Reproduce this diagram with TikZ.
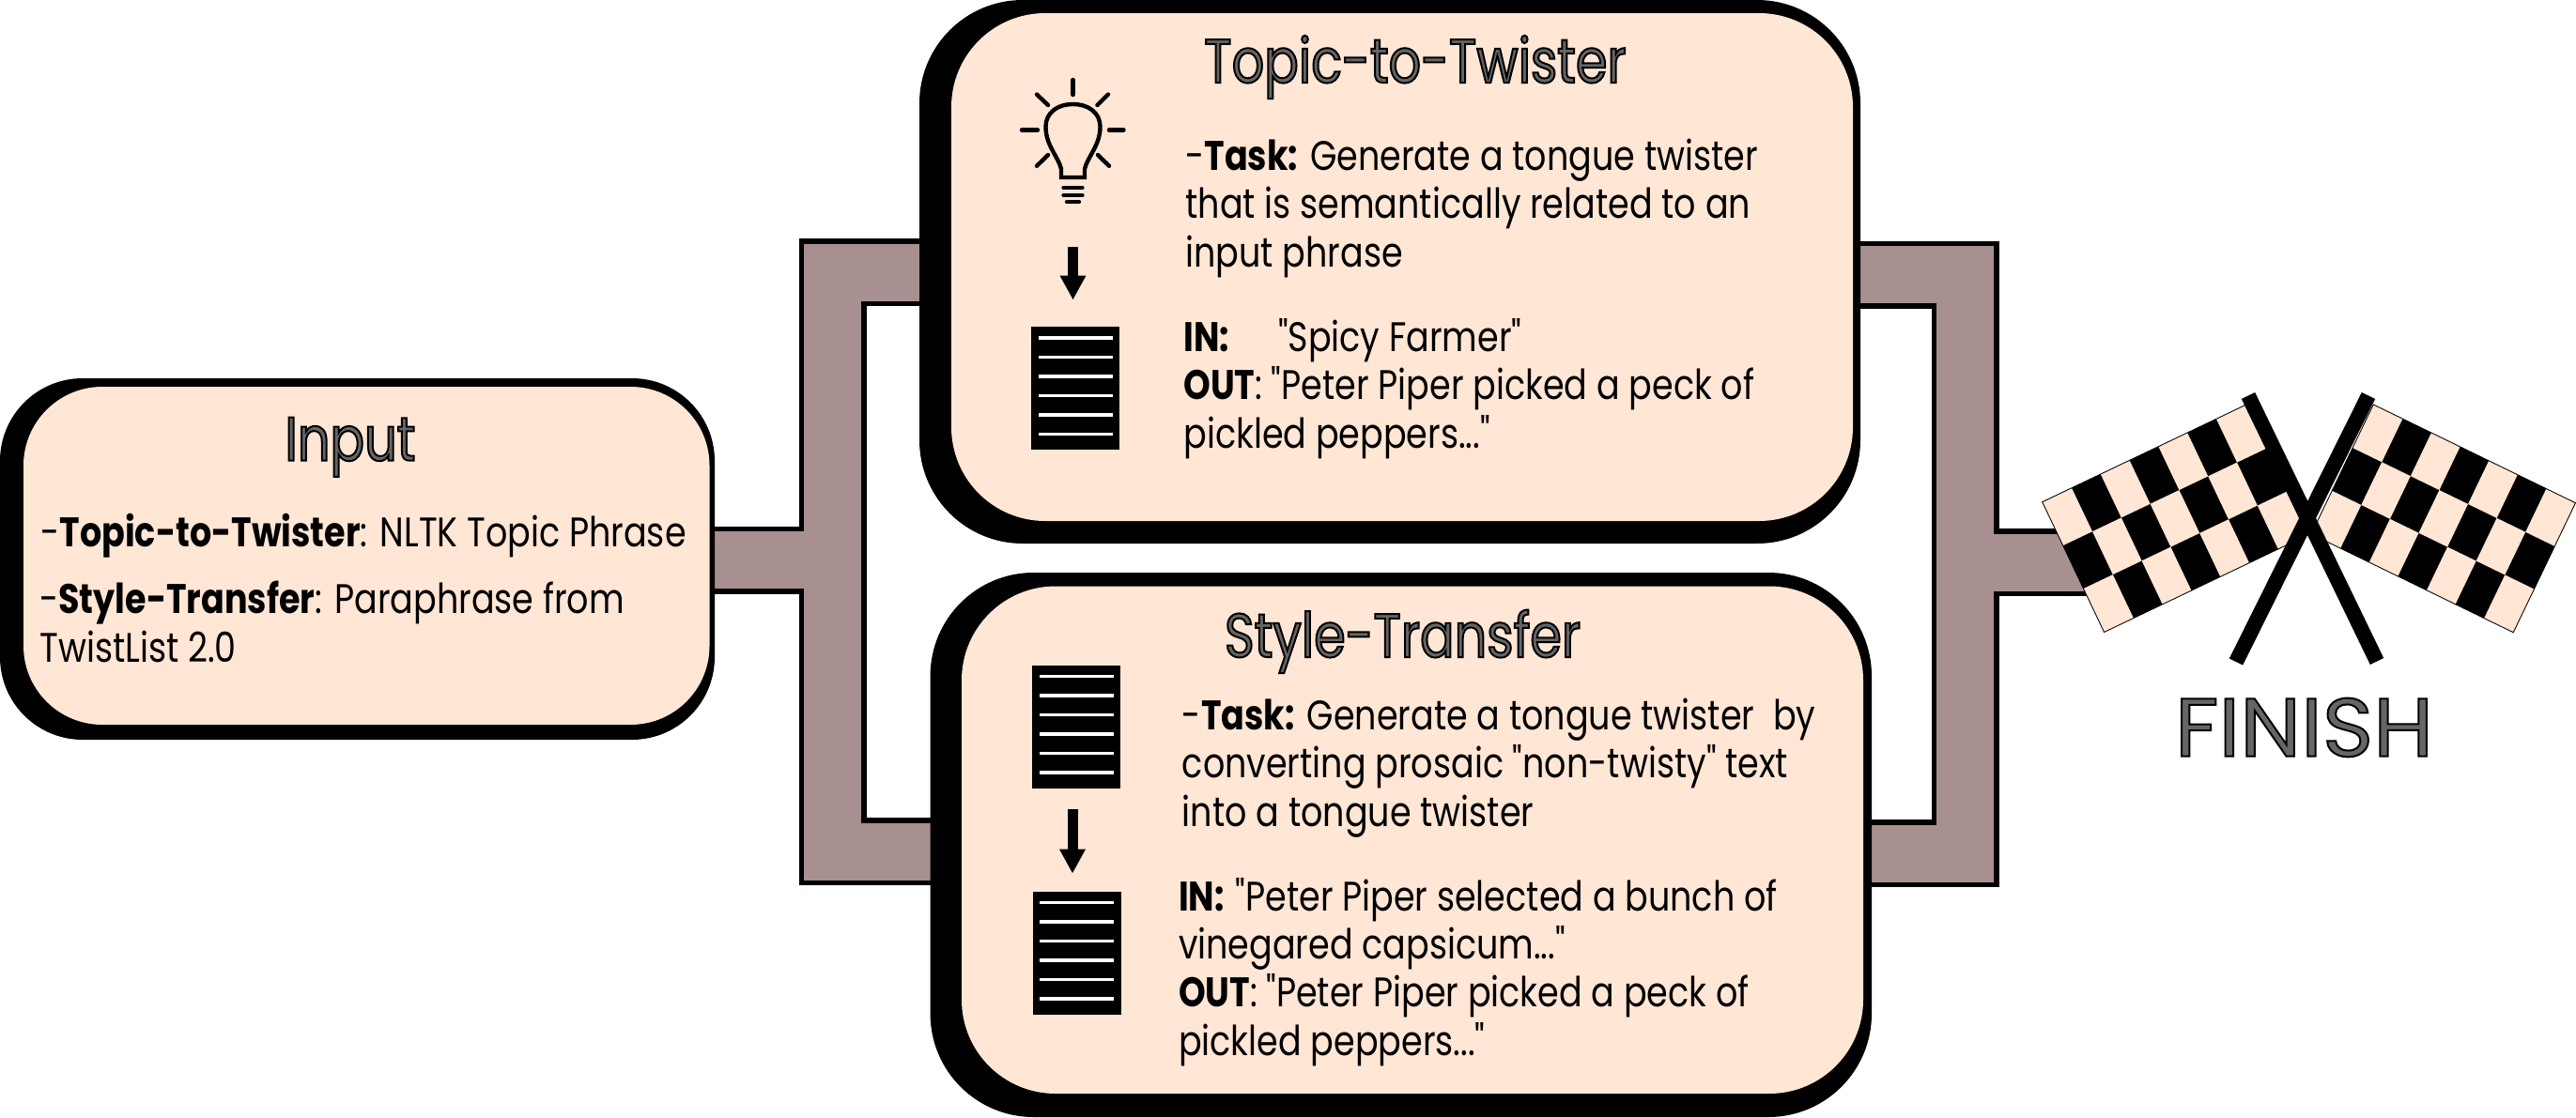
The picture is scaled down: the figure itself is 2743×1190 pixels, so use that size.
\documentclass[tikz,border=0pt]{standalone}
\usepackage{fontspec}
\usetikzlibrary{arrows.meta,backgrounds}
\newfontfamily\bodyfont[FakeStretch=0.83]{Poppins}
\newfontfamily\headfont[FakeStretch=0.82]{Poppins}
\newfontfamily\finishfont[FakeStretch=1.05]{Poppins}
\definecolor{peach}{HTML}{FFE6D5}
\definecolor{pipecol}{HTML}{A89090}
\newcommand{\strokedtext}[1]{\special{pdf:code 2 Tr 1 w 0 0 0 RG 0.4 0.4 0.4 rg}#1\special{pdf:code 0 Tr 1 w 0 G 0 g}}
% sheet of text: black page with six white rules
\newcommand{\docicon}[3]{
  \node[docpage] (#1) at (#2,#3) {};
  \foreach \k in {-53.75,-33.25,-12.75,7.75,28.25,48.75}
    \draw[docrule] (#2-39.5,#3+\k) -- (#2+39.5,#3+\k);
}
\newcommand{\flagcells}{
  \draw[flagback] (0,0) -- (7,0) -- (7,3) -- (0,3) -- cycle;
  \foreach \i/\j in {0/0,2/0,4/0,6/0,1/1,3/1,5/1,0/2,2/2,4/2,6/2}
    \fill[peach] (\i,\j) -- (\i+1,\j) -- (\i+1,\j+1) -- (\i,\j+1) -- cycle;
}
\tikzset{
  boxback/.style={fill=black, inner sep=0pt, rounded corners=55pt},
  boxfill/.style={fill=peach, inner sep=0pt, rounded corners=50pt},
  bodytext/.style={anchor=base west, inner sep=0pt, align=left, font=\bodyfont\fontsize{22}{25.6}\selectfont},
  titletext/.style={anchor=base, inner sep=0pt, font=\headfont\fontsize{33}{36}\selectfont},
  pipeedge/.style={draw=black, line width=36pt, miter limit=10},
  pipecore/.style={draw=pipecol, line width=30.5pt, miter limit=10},
  docpage/.style={fill=black, inner sep=0pt, minimum width=47pt, minimum height=65.5pt},
  docrule/.style={white, line width=1.9pt},
  downarrow/.style={-{Triangle[length=13pt,width=13pt]}, line width=5.5pt},
  bulbline/.style={line width=2.2pt, line cap=round},
  flagback/.style={fill=black, draw=black, line width=1pt},
  flagpole/.style={line width=8pt}
}

\begin{document}
\begin{tikzpicture}[x=0.5pt,y=-0.5pt]
  \useasboundingbox (0,0) rectangle (2743,1190);

  % boxes
  \node[boxback, minimum width=380.5pt, minimum height=192.5pt, rounded corners=44pt] (inputback) at (380.5,595.5) {};
  \node[boxfill, minimum width=365.25pt, minimum height=180pt, rounded corners=42pt] (input) at (390.25,592) {};
  \node[boxback, minimum width=501pt, minimum height=289.5pt] (topicback) at (1480,289.5) {};
  \node[boxfill, minimum width=480pt, minimum height=270.5pt] (topic) at (1493,284.5) {};
  \node[boxback, minimum width=501.2pt, minimum height=290pt] (styleback) at (1491.8,900) {};
  \node[boxfill, minimum width=480pt, minimum height=270.25pt] (style) at (1504,894.75) {};

  % pipes
  \coordinate (leftmid) at (886.5,596.5);
  \coordinate (leftup) at (886.5,290);
  \coordinate (leftdown) at (886.5,907);
  \coordinate (rightmid) at (2092.5,599);
  \coordinate (rightup) at (2092.5,292.5);
  \coordinate (rightdown) at (2092.5,909);
  \coordinate (flagjoin) at (2230,599);
  \begin{scope}[on background layer]
    \foreach \pipestyle in {pipeedge,pipecore} {
      \draw[\pipestyle] (topicback.center |- leftup) -- (leftup) -- (leftdown) -- (styleback.center |- leftdown);
      \draw[\pipestyle] (inputback.center |- leftmid) -- (leftmid);
      \draw[\pipestyle] (topicback.center |- rightup) -- (rightup) -- (rightdown) -- (styleback.center |- rightdown);
      \draw[\pipestyle] (rightmid) -- (flagjoin);
    }
  \end{scope}

  % input text
  \node[titletext] (inputtitle) at (373,490.7) {\strokedtext{Input}};
  \node[bodytext] (inputtopic) at (43,582) {-\textbf{Topic-to-Twister}: NLTK Topic Phrase};
  \node[bodytext] (inputstyle) at (42,705) {-\textbf{Style-Transfer}: Paraphrase from\\TwistList 2.0};

  % topic-to-twister text
  \node[titletext] (topictitle) at (1507,88) {\strokedtext{Topic-to-Twister}};
  \node[bodytext] (topictask) at (1262,284) {-\textbf{Task:} Generate a tongue twister\\that is semantically related to an\\input phrase};
  \node[bodytext] (topicio) at (1260,477) {\textbf{IN:}\hspace{26pt}"Spicy Farmer"\\\textbf{OUT}: "Peter Piper picked a peck of\\pickled peppers..."};

  % bulb
  \draw[line width=2.2pt] (1130,189) -- (1130,180) .. controls (1127,167) and (1113.5,155) .. (1113.5,135)
    .. controls (1113.5,120) and (1126,111) .. (1142.5,111) .. controls (1159,111) and (1171.5,120) .. (1171.5,135)
    .. controls (1171.5,155) and (1158,167) .. (1155,180) -- (1155,189) -- cycle;
  \draw[bulbline] (1142.5,85) -- (1142.5,101);
  \draw[bulbline] (1088,138.5) -- (1105,138.5);
  \draw[bulbline] (1181,138.5) -- (1196.5,138.5);
  \draw[bulbline] (1104,100.6) -- (1116,112);
  \draw[bulbline] (1180,100.6) -- (1168.4,112);
  \draw[bulbline] (1104,176.8) -- (1116,165);
  \draw[bulbline] (1181,176.8) -- (1169,165);
  \draw[bulbline] (1132.5,200) -- (1152.5,200);
  \draw[bulbline] (1132.5,208) -- (1152.5,208);
  \draw[bulbline] (1136,215) -- (1149,215);

  % topic-to-twister icons
  \docicon{topicdoc}{1145}{413.75}
  \coordinate (topicfrom) at (1142.5,263);
  \coordinate (topicto) at (1142.5,319.5);
  \draw[downarrow] (topicfrom) -- (topicto);

  % style-transfer text
  \node[titletext] (styletitle) at (1493.5,700) {\strokedtext{Style-Transfer}};
  \node[bodytext] (styletask) at (1258.5,880) {-\textbf{Task:} Generate a tongue twister\ \ by\\converting prosaic "non-twisty" text\\into a tongue twister};
  \node[bodytext] (styleio) at (1254.6,1124) {\textbf{IN:}\hspace{6pt}"Peter Piper selected a bunch of\\vinegared capsicum..."\\\textbf{OUT}: "Peter Piper picked a peck of\\pickled peppers..."};

  % style-transfer icons
  \docicon{styledocin}{1146}{774.25}
  \docicon{styledocout}{1146.7}{1015.3}
  \coordinate (stylefrom) at (1142,862);
  \coordinate (styleto) at (1142,930.6);
  \draw[downarrow] (stylefrom) -- (styleto);

  % flags
  \begin{scope}[shift={(2175.4,535)}, x={(15.4pt,7.355pt)}, y={(10.9pt,-22.95pt)}]
    \flagcells
  \end{scope}
  \begin{scope}[shift={(2527.5,431.7)}, x={(15.3pt,-7.45pt)}, y={(-10.95pt,-22.83pt)}]
    \flagcells
  \end{scope}
  \coordinate (poleoneup) at (2394,421.5);
  \coordinate (poleonedown) at (2531,704.5);
  \coordinate (poletwoup) at (2522,421.5);
  \coordinate (poletwodown) at (2381,705);
  \draw[flagpole] (poleoneup) -- (poleonedown);
  \draw[flagpole] (poletwoup) -- (poletwodown);
  \node[titletext, font=\finishfont\fontsize{44}{48}\selectfont] (finish) at (2453.5,805.7) {\strokedtext{FINISH}};
\end{tikzpicture}
\end{document}
